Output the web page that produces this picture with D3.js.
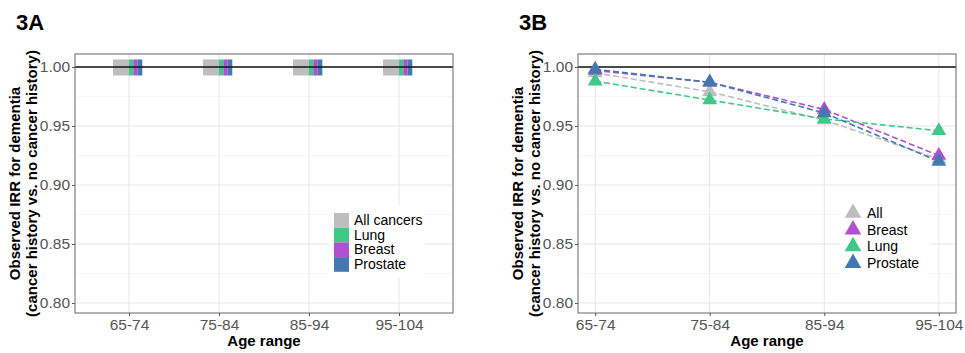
<!DOCTYPE html>
<html><head><meta charset="utf-8">
<script src="https://cdn.jsdelivr.net/npm/d3@7"></script>
<style>body{margin:0;background:#fff}svg{display:block}text{font-family:"Liberation Sans",Arial,sans-serif}</style>
</head><body><svg id="c" width="965" height="353"></svg>
<script>
const ageRanges = ["65-74","75-84","85-94","95-104"];
const yTicks = [0.80,0.85,0.90,0.95,1.00];
const yMinor = [0.825,0.875,0.925,0.975];
// Panel 3A series (all at 1.00)
const barSeries = ["All cancers","Lung","Breast","Prostate"];
const barAll = [1.00,1.00,1.00,1.00];
const barLung = [1.00,1.00,1.00,1.00];
const barBreast = [1.00,1.00,1.00,1.00];
const barProstate = [1.00,1.00,1.00,1.00];
// Panel 3B series
const lineSeries = ["All","Breast","Lung","Prostate"];
const lineAll = [0.995,0.979,0.955,0.922];
const lineBreast = [0.997,0.987,0.964,0.925];
const lineLung = [0.988,0.972,0.956,0.946];
const lineProstate = [0.998,0.987,0.961,0.920];

const colors = {"All cancers":"#bebebe","All":"#bebebe","Lung":"#3fc986","Breast":"#b04fcf","Prostate":"#4479b0"};
const svg = d3.select("#c");
const pTop = 54, pBottom = 313;
const y = d3.scaleLinear().domain([0.7915,1.011]).range([pBottom, pTop]);

function panel(x0, x1, label, xScale){
  const g = svg.append("g");
  g.append("text").attr("x", x0-59).attr("y", 30).text(label)
    .attr("font-family","'Open Sans',sans-serif").attr("font-weight",700).attr("font-size",22).attr("fill","#000");
  g.selectAll(".mn").data(yMinor).join("line").attr("x1",x0).attr("x2",x1)
    .attr("y1",d=>y(d)).attr("y2",d=>y(d)).attr("stroke","#f3f3f3").attr("stroke-width",0.8);
  g.selectAll(".mj").data(yTicks).join("line").attr("x1",x0).attr("x2",x1)
    .attr("y1",d=>y(d)).attr("y2",d=>y(d)).attr("stroke","#e6e6e6").attr("stroke-width",1);
  g.selectAll(".vx").data(ageRanges).join("line").attr("x1",d=>xScale(d)).attr("x2",d=>xScale(d))
    .attr("y1",pTop).attr("y2",pBottom).attr("stroke","#e6e6e6").attr("stroke-width",1);
  const ya = g.append("g").attr("transform",`translate(${x0},0)`)
    .call(d3.axisLeft(y).tickValues(yTicks).tickFormat(d3.format(".2f")).tickSize(3).tickPadding(2));
  ya.select(".domain").remove();
  ya.selectAll("line").attr("stroke","#555");
  ya.selectAll("text").attr("font-size",15.5).attr("fill","#555").attr("font-family","'Liberation Sans',Arial,sans-serif");
  const xa = g.append("g").attr("transform",`translate(0,${pBottom})`)
    .call(d3.axisBottom(xScale).tickSize(3).tickPadding(3));
  xa.select(".domain").remove();
  xa.selectAll("line").attr("stroke","#555");
  xa.selectAll("text").attr("font-size",15.5).attr("fill","#555").attr("font-family","'Liberation Sans',Arial,sans-serif");
  g.append("text").attr("x",(x0+x1)/2).attr("y",346).attr("text-anchor","middle")
    .attr("font-weight",700).attr("font-size",15).text("Age range");
  const cy = (pTop+pBottom)/2;
  g.append("text").attr("transform",`translate(${x0-55},${cy}) rotate(-90)`).attr("text-anchor","middle")
    .attr("font-weight",700).attr("font-size",15).text("Observed IRR for dementia");
  g.append("text").attr("transform",`translate(${x0-38},${cy}) rotate(-90)`).attr("text-anchor","middle")
    .attr("font-weight",700).attr("font-size",15).text("(cancer history vs. no cancer history)");
  return g;
}
function frame(g, x0, x1){
  g.append("line").attr("x1",x0).attr("x2",x1).attr("y1",y(1)).attr("y2",y(1)).attr("stroke","#111").attr("stroke-width",1.6);
  g.append("rect").attr("x",x0).attr("y",pTop).attr("width",x1-x0).attr("height",pBottom-pTop)
    .attr("fill","none").attr("stroke","#666").attr("stroke-width",1);
}

// ---- Panel A ----
const ax0 = 75, ax1 = 453;
const xA = d3.scalePoint().domain(ageRanges).range([ax0,ax1]).padding(0.6);
const gA = panel(ax0, ax1, "3A", xA);
const barVals = {"All cancers":barAll,"Lung":barLung,"Breast":barBreast,"Prostate":barProstate};
const barGeom = {"All cancers":[-16,16],"Lung":[0,4.3],"Breast":[4.3,4.4],"Prostate":[8.7,4.6]};
const barH = 16;
barSeries.forEach(s=>{
  gA.selectAll(null).data(barVals[s]).join("rect")
    .attr("x",(d,i)=>xA(ageRanges[i])+barGeom[s][0]).attr("width",barGeom[s][1])
    .attr("y",d=>y(d)-barH/2+0.5).attr("height",barH).attr("fill",colors[s]);
});
frame(gA, ax0, ax1);
const lgA = gA.append("g").attr("transform","translate(329,205)");
lgA.append("rect").attr("x",0).attr("y",0).attr("width",96).attr("height",72).attr("fill","#fff");
barSeries.forEach((s,i)=>{
  lgA.append("rect").attr("x",5).attr("y",8+i*14.7).attr("width",15).attr("height",14.7).attr("fill",colors[s]);
  lgA.append("text").attr("x",25).attr("y",8+i*14.7+12).attr("font-size",14).attr("fill","#000").text(s);
});

// ---- Panel B ----
const bx0 = 578, bx1 = 956;
const xB = d3.scalePoint().domain(ageRanges).range([bx0,bx1]).padding(0.15);
const gB = panel(bx0, bx1, "3B", xB);
frame(gB, bx0, bx1);
const lineVals = {"All":lineAll,"Breast":lineBreast,"Lung":lineLung,"Prostate":lineProstate};
const line = d3.line().x((d,i)=>xB(ageRanges[i])).y(d=>y(d));
lineSeries.forEach(s=>{
  gB.append("path").datum(lineVals[s]).attr("d",line).attr("fill","none")
    .attr("stroke",colors[s]).attr("stroke-width",1.6).attr("stroke-dasharray","6,3");
});
const tri = d3.symbol().type(d3.symbolTriangle).size(95);
lineSeries.forEach(s=>{
  gB.selectAll(null).data(lineVals[s]).join("path").attr("d",tri)
    .attr("transform",(d,i)=>`translate(${xB(ageRanges[i])},${y(d)})`).attr("fill",colors[s]);
});
const lgB = gB.append("g").attr("transform","translate(840,200)");
lgB.append("rect").attr("x",0).attr("y",0).attr("width",90).attr("height",74).attr("fill","#fff");
lineSeries.forEach((s,i)=>{
  lgB.append("path").attr("d",d3.symbol().type(d3.symbolTriangle).size(120))
    .attr("transform",`translate(13,${13+i*16.7})`).attr("fill",colors[s]);
  lgB.append("text").attr("x",27).attr("y",13+i*16.7+5).attr("font-size",14).attr("fill","#000").text(s);
});
</script></body></html>
